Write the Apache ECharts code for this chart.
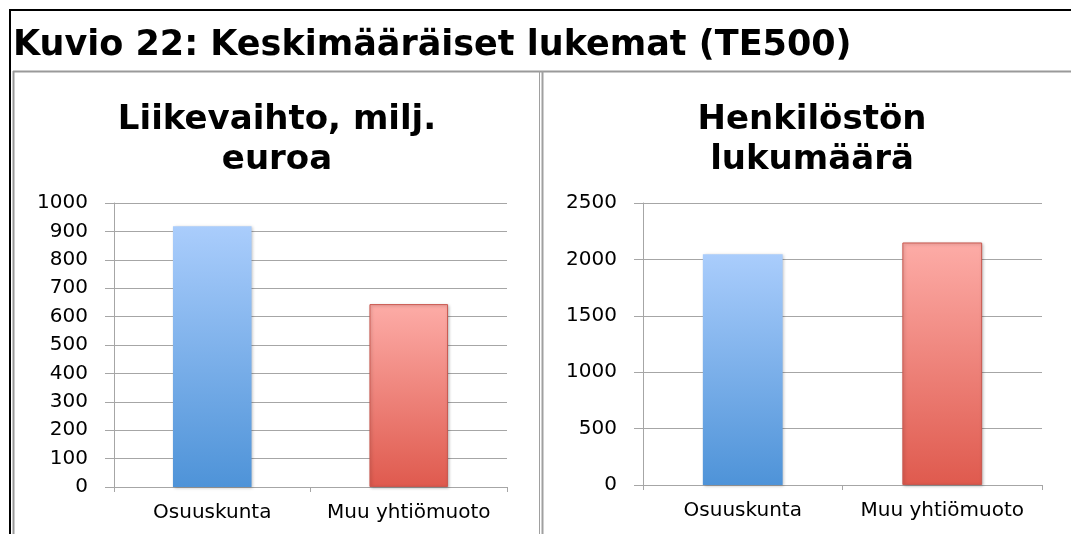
<!DOCTYPE html>
<html>
<head>
<meta charset="utf-8">
<script src="https://cdn.jsdelivr.net/npm/echarts@6/dist/echarts.min.js"></script>
<style>
  html, body { margin: 0; padding: 0; background: #fff; }
  #main { width: 1071px; height: 534px; }
</style>
</head>
<body>
<div id="main"></div>
<script>
// data
var categories = ['Osuuskunta', 'Muu yhtiömuoto'];
var turnover = [918, 644];      // Liikevaihto, milj. euroa
var staff = [2045, 2150];       // Henkilöstön lukumäärä

var mainTitle = 'Kuvio 22: Keskimääräiset lukemat (TE500)';
var leftTitle = 'Liikevaihto, milj.\neuroa';
var rightTitle = 'Henkilöstön\nlukumäärä';

var FONT = 'DejaVu Sans';
var GRID_GRAY = '#a6a6a6';

function grad(top, bottom) {
	return new echarts.graphic.LinearGradient(0, 0, 0, 1, [
		{ offset: 0, color: top },
		{ offset: 1, color: bottom }
	]);
}

var blue = grad('#aacdfc', '#4e93d8');
var red = grad('#fdaca7', '#df5a4e');

function colorsFor(idx) {
	return idx === 0 ? blue : red;
}

function valueAxis(gridIndex, max, interval) {
	return {
		type: 'value',
		gridIndex: gridIndex,
		min: 0,
		max: max,
		interval: interval,
		axisLine: { show: true, lineStyle: { color: GRID_GRAY, width: 1 } },
		axisTick: { show: true, length: 9, lineStyle: { color: GRID_GRAY } },
		splitLine: { show: true, lineStyle: { color: GRID_GRAY, width: 1 } },
		axisLabel: {
			color: '#000', fontFamily: FONT, fontSize: 20, margin: 26,
			formatter: function(v) { return String(v); }
		}
	};
}

function catAxis(gridIndex) {
	return {
		type: 'category',
		gridIndex: gridIndex,
		data: categories,
		axisLine: { show: true, lineStyle: { color: GRID_GRAY, width: 1 } },
		axisTick: { show: true, length: 5, interval: 0, lineStyle: { color: GRID_GRAY } },
		axisLabel: { color: '#000', fontFamily: FONT, fontSize: 20, margin: 16, interval: 0, hideOverlap: false }
	};
}

function barSeries(idx, values) {
	return {
		type: 'bar',
		xAxisIndex: idx,
		yAxisIndex: idx,
		barWidth: '40%',
		data: values.map(function(v, i) {
			return {
				value: v,
				itemStyle: {
					color: colorsFor(i),
					borderColor: i === 0 ? 'rgba(0,0,0,0)' : '#c9584f',
					borderWidth: i === 0 ? 0 : 1,
					shadowColor: 'rgba(0,0,0,0.25)',
					shadowBlur: 3,
					shadowOffsetX: 1,
					shadowOffsetY: 1
				}
			};
		}),
		silent: true
	};
}

var chart = echarts.init(document.getElementById('main'), null, { renderer: 'canvas' });

chart.setOption({
	animation: false,
	backgroundColor: '#fff',
	title: [
		{
			text: mainTitle, left: 13, top: 26, padding: 0,
			textStyle: { fontFamily: FONT, fontWeight: 'bold', fontSize: 35, lineHeight: 40, color: '#000' }
		},
		{
			text: leftTitle, left: 277, top: 100, padding: 0, textAlign: 'center',
			textStyle: { fontFamily: FONT, fontWeight: 'bold', fontSize: 34, lineHeight: 40, color: '#000' }
		},
		{
			text: rightTitle, left: 812, top: 100, padding: 0, textAlign: 'center',
			textStyle: { fontFamily: FONT, fontWeight: 'bold', fontSize: 34, lineHeight: 40, color: '#000' }
		}
	],
	grid: [
		{ left: 114, right: 564, top: 203, bottom: 47 },
		{ left: 643, right: 29, top: 203, bottom: 49 }
	],
	xAxis: [catAxis(0), catAxis(1)],
	yAxis: [valueAxis(0, 1000, 100), valueAxis(1, 2500, 500)],
	series: [barSeries(0, turnover), barSeries(1, staff)],
	graphic: [
		// outer black frame (top and left)
		{ type: 'line', shape: { x1: 9, y1: 10, x2: 1071, y2: 10 }, style: { stroke: '#000', lineWidth: 2 } },
		{ type: 'line', shape: { x1: 10, y1: 10, x2: 10, y2: 534 }, style: { stroke: '#000', lineWidth: 2 } },
		// gray chart-area frames
		{ type: 'line', shape: { x1: 13, y1: 71.5, x2: 1071, y2: 71.5 }, style: { stroke: '#9a9a9a', lineWidth: 2 } },
		{ type: 'line', shape: { x1: 13.5, y1: 71, x2: 13.5, y2: 534 }, style: { stroke: '#9a9a9a', lineWidth: 2 } },
		{ type: 'line', shape: { x1: 539.5, y1: 71, x2: 539.5, y2: 534 }, style: { stroke: '#a0a0a0', lineWidth: 1 } },
		{ type: 'line', shape: { x1: 542.5, y1: 71, x2: 542.5, y2: 534 }, style: { stroke: '#a0a0a0', lineWidth: 2 } }
	]
});
</script>
</body>
</html>
